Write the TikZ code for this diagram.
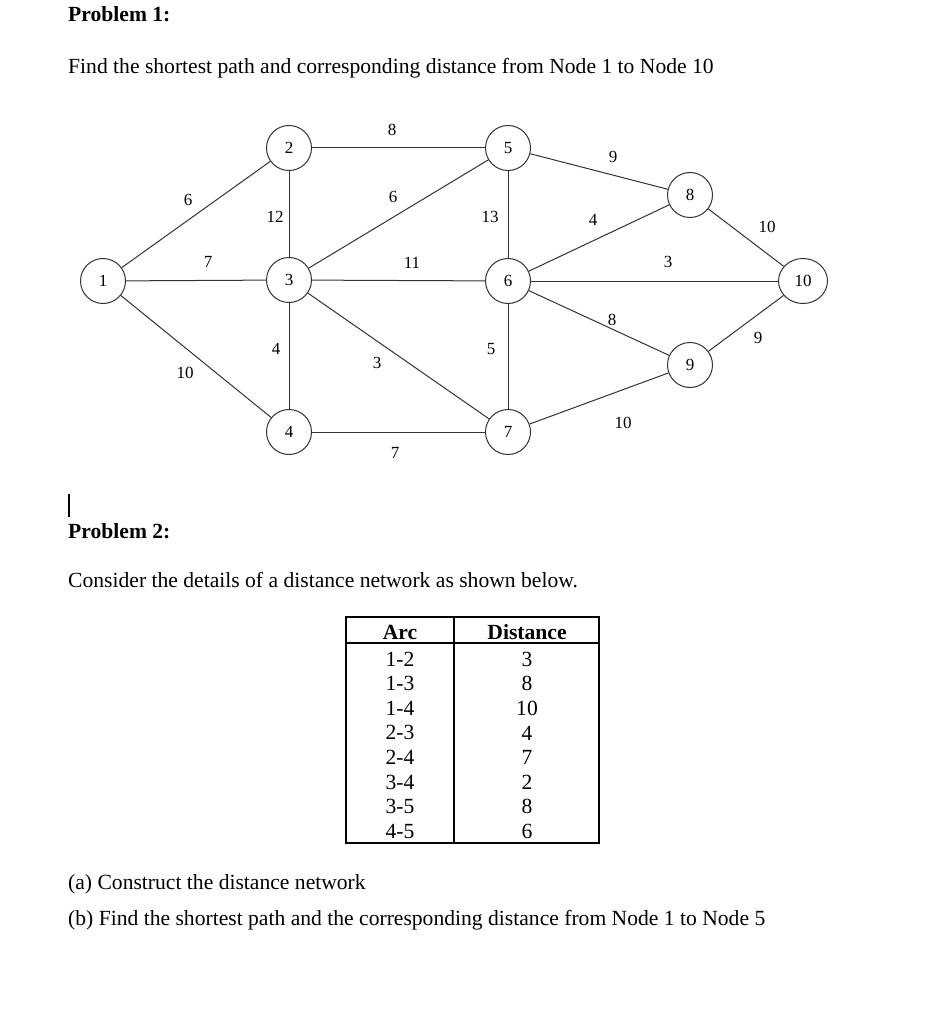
\documentclass[tikz,border=0pt]{standalone}
\usepackage{fontspec}
\setmainfont{Liberation Serif}
\usetikzlibrary{shapes.geometric}
\definecolor{edgegray}{RGB}{50,50,50}
\tikzset{
    % plain body text of the sheet
    bodytext/.style={anchor=base west, inner sep=0pt, font=\fontsize{21.6}{26}\selectfont},
    % bold problem headings
    headtext/.style={bodytext, font=\fontsize{21.6}{26}\selectfont\bfseries},
    % network vertex, a small circle with its number
    vertex/.style={circle, draw=edgegray, line width=1pt, minimum size=45pt,
        inner sep=0pt, font=\fontsize{17}{19}\selectfont},
    % arcs of the network
    arc/.style={draw=edgegray, line width=1pt},
    % distance written next to an arc
    weight/.style={inner sep=0pt, font=\fontsize{17}{19}\selectfont},
    % cells of the distance table
    cell/.style={inner sep=0pt, font=\fontsize{21.6}{26}\selectfont},
    rule/.style={line width=1.2pt},
}

\begin{document}
\begin{tikzpicture}[x=1pt, y=-1pt]
    \useasboundingbox (0,0) rectangle (931,1024);

    % ---- problem 1 ----
    \node[headtext] (p1) at (68, 22) {Problem 1:};
    \node[bodytext] (q1) at (68, 74)
        {Find the shortest path and corresponding distance from Node 1 to Node 10};

    % ---- network ----
    \node[vertex] (n1) at (103, 281) {1};
    \node[vertex] (n2) at (289, 148) {2};
    \node[vertex] (n3) at (289, 280) {3};
    \node[vertex] (n4) at (289, 432) {4};
    \node[vertex] (n5) at (508, 148) {5};
    \node[vertex] (n6) at (508, 281) {6};
    \node[vertex] (n7) at (508, 432) {7};
    \node[vertex] (n8) at (690, 195) {8};
    \node[vertex] (n9) at (690, 365) {9};
    \node[vertex, ellipse, minimum width=49pt, minimum height=45pt] (n10) at (803, 281) {10};

    \foreach \a/\b in {1/2, 1/3, 1/4, 2/3, 2/5, 3/5, 3/6, 3/4, 3/7, 4/7,
                       5/6, 6/7, 5/8, 6/8, 6/10, 6/9, 8/10, 9/10, 7/9}
        { \draw[arc] (n\a) -- (n\b); }

    % distances on the arcs
    \node[weight] (w12)  at (188, 200) {6};
    \node[weight] (w13)  at (208, 262) {7};
    \node[weight] (w14)  at (185, 373) {10};
    \node[weight] (w23)  at (275, 217) {12};
    \node[weight] (w25)  at (392, 130) {8};
    \node[weight] (w35)  at (393, 197) {6};
    \node[weight] (w36)  at (412, 263) {11};
    \node[weight] (w34)  at (276, 349) {4};
    \node[weight] (w37)  at (377, 363) {3};
    \node[weight] (w47)  at (395, 453) {7};
    \node[weight] (w56)  at (490, 217) {13};
    \node[weight] (w67)  at (491, 349) {5};
    \node[weight] (w58)  at (613, 157) {9};
    \node[weight] (w68)  at (593, 220) {4};
    \node[weight] (w810) at (767, 227) {10};
    \node[weight] (w610) at (668, 262) {3};
    \node[weight] (w69)  at (612, 320) {8};
    \node[weight] (w910) at (758, 338) {9};
    \node[weight] (w79)  at (623, 423) {10};

    % ---- problem 2 ----
    \draw[line width=1.3pt] (69, 494) -- (69, 517);
    \node[headtext] (p2) at (68, 538) {Problem 2:};
    \node[bodytext] (q2) at (68, 587) {Consider the details of a distance network as shown below.};

    % distance table
    \draw[rule] (346, 617) rectangle (599, 843);
    \draw[rule] (346, 643) -- (599, 643);
    \draw[rule] (454, 617) -- (454, 843);
    \node[cell, font=\fontsize{21.6}{26}\selectfont\bfseries] (harc) at (400, 632) {Arc};
    \node[cell, font=\fontsize{21.6}{26}\selectfont\bfseries] (hdist) at (527, 632) {Distance};
    \foreach \arcname/\dist [count=\i] in {1-2/3, 1-3/8, 1-4/10, 2-3/4, 2-4/7, 3-4/2, 3-5/8, 4-5/6}{
        \node[cell] (a\i) at (400, 634.5 + 24.6*\i) {\arcname};
        \node[cell] (d\i) at (527, 634.5 + 24.6*\i) {\dist};
    }

    \node[bodytext] (qa) at (68, 889) {(a) Construct the distance network};
    \node[bodytext] (qb) at (68, 925)
        {(b) Find the shortest path and the corresponding distance from Node 1 to Node 5};

\end{tikzpicture}
\end{document}
